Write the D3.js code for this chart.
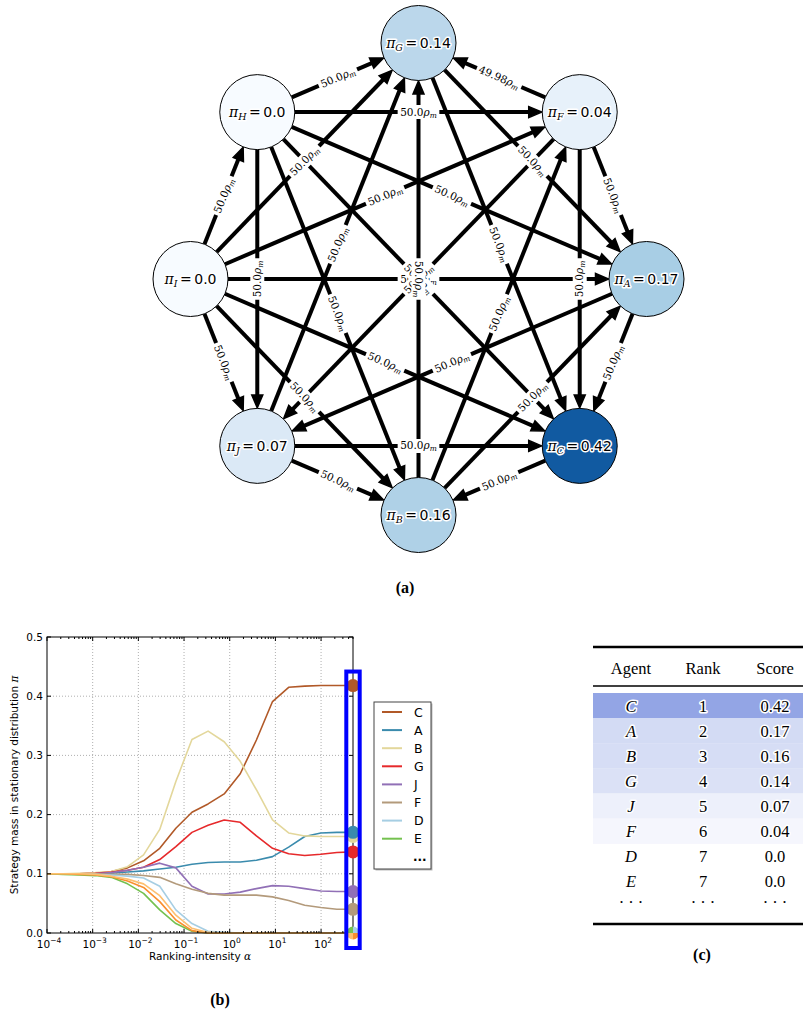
<!DOCTYPE html>
<html>
<head>
<meta charset="utf-8">
<script src="https://cdn.jsdelivr.net/npm/d3@7"></script>
<style>
  body { margin: 0; background: #fff; }
  svg { display: block; }
</style>
</head>
<body>
<svg id="fig" width="803" height="1013"></svg>
<script>
// ---------------- data: response graph (a) ----------------
// agents in circular order, starting on the right and going counter-clockwise
const agents = ["A", "F", "G", "H", "I", "J", "B", "C"];
const agentMass = [0.17, 0.04, 0.14, 0.0, 0.0, 0.07, 0.16, 0.42];

const edgeSource = ["I","I","I","I","I","I","I","H","H","H","H","H","H","G","G","F","F","F","F","A","A","J","J","J","C","B","B","B"];
const edgeTarget = ["H","G","F","A","C","B","J","G","F","A","C","B","J","C","A","G","J","C","A","J","C","G","C","B","B","F","A","G"];
const edgeRate   = [50.0,50.0,50.0,50.0,50.0,50.0,50.0,50.0,50.0,50.0,50.0,50.0,50.0,50.0,50.0,49.98,50.0,50.0,50.0,50.0,50.0,50.0,50.0,50.0,50.0,50.0,50.0,50.0];

// ---------------- data: mass vs ranking intensity (b) ----------------
const alphaGrid = [1e-4, 2.25e-4, 5.07e-4, 1.14e-3, 2.57e-3, 5.79e-3, 1.30e-2, 2.94e-2, 6.62e-2, 0.149,
                   0.336, 0.757, 1.70, 3.84, 8.65, 19.5, 43.9, 98.8, 222, 500];
const seriesNames  = ["C", "A", "B", "G", "J", "F", "D", "E", "H", "I"];
const seriesColors = ["#b15928", "#3a8bad", "#e3d79b", "#e6292b", "#9170b6", "#b39a7b", "#a6cee3", "#74c14f", "#f98f2d", "#fdbf6f"];
const massC = [0.100,0.100,0.100,0.101,0.104,0.110,0.122,0.143,0.177,0.204,0.218,0.235,0.269,0.326,0.391,0.415,0.417,0.418,0.418,0.418];
const massA = [0.100,0.100,0.100,0.100,0.101,0.103,0.105,0.108,0.111,0.116,0.119,0.120,0.120,0.123,0.129,0.145,0.163,0.169,0.170,0.170];
const massB = [0.100,0.100,0.101,0.102,0.104,0.112,0.132,0.175,0.256,0.327,0.341,0.323,0.290,0.242,0.191,0.169,0.164,0.163,0.163,0.163];
const massG = [0.100,0.100,0.100,0.101,0.103,0.106,0.111,0.124,0.146,0.170,0.182,0.191,0.187,0.164,0.143,0.134,0.131,0.133,0.136,0.137];
const massJ = [0.100,0.100,0.100,0.100,0.102,0.106,0.111,0.118,0.110,0.079,0.066,0.066,0.069,0.075,0.080,0.079,0.075,0.071,0.070,0.070];
const massF = [0.100,0.100,0.100,0.100,0.099,0.099,0.097,0.094,0.083,0.074,0.067,0.064,0.064,0.064,0.061,0.055,0.047,0.043,0.040,0.040];
const massD = [0.100,0.100,0.100,0.099,0.098,0.096,0.093,0.079,0.039,0.016,0.003,0.001,0.000,0.000,0.000,0.000,0.000,0.000,0.000,0.000];
const massE = [0.100,0.099,0.098,0.097,0.094,0.083,0.067,0.039,0.016,0.003,0.000,0.000,0.000,0.000,0.000,0.000,0.000,0.000,0.000,0.000];
const massH = [0.100,0.100,0.099,0.098,0.095,0.088,0.077,0.053,0.022,0.004,0.000,0.000,0.000,0.000,0.000,0.000,0.000,0.000,0.000,0.000];
const massI = [0.100,0.100,0.100,0.099,0.096,0.091,0.083,0.063,0.030,0.008,0.001,0.000,0.000,0.000,0.000,0.000,0.000,0.000,0.000,0.000];
const legendNames = ["C", "A", "B", "G", "J", "F", "D", "E"];
const yTickValues = [0.0, 0.1, 0.2, 0.3, 0.4, 0.5];
const xTickExponents = [-4, -3, -2, -1, 0, 1, 2];

// ---------------- data: ranking table (c) ----------------
const tableAgents = ["C", "A", "B", "G", "J", "F", "D", "E"];
const tableRanks  = [1, 2, 3, 4, 5, 6, 7, 7];
const tableScores = [0.42, 0.17, 0.16, 0.14, 0.07, 0.04, 0.0, 0.0];
const tableHeader = ["Agent", "Rank", "Score"];

// ------------------------------------------------------------
const svg = d3.select("#fig");
const pyStr = v => Number.isInteger(v) ? v.toFixed(1) : String(v);
const SERIF = "'DejaVu Serif', serif";
const SANS = "'DejaVu Sans', sans-serif";
const TIMES = "'Liberation Serif', 'Times New Roman', serif";

// ======================= (a) graph =======================
const gA = svg.append("g");
const ring = { cx: 418.5, cy: 279, rx: 228, ry: 236 };
const nodeR = 37.5;
const turn = d3.scaleLinear().domain([0, agents.length]).range([0, 2 * Math.PI]);
const blues = d3.scaleSequential(d3.interpolateBlues).domain([0, 0.5]);

const nodes = agents.map((a, i) => {
  const t = turn(i);
  const snap = v => Math.round(v * 1000) / 1000;
  return { id: a, mass: agentMass[i],
           x: snap(ring.cx + ring.rx * Math.cos(t)),
           y: snap(ring.cy - ring.ry * Math.sin(t)) };
});
const byId = Object.fromEntries(nodes.map(n => [n.id, n]));

const edges = edgeSource.map((s, i) => {
  const a = byId[s], b = byId[edgeTarget[i]];
  const dx = b.x - a.x, dy = b.y - a.y, len = Math.hypot(dx, dy);
  const ux = dx / len, uy = dy / len;
  // text angle kept readable, measured target -> source
  let ang = Math.atan2(a.y - b.y, a.x - b.x) * 180 / Math.PI;
  if (ang > 90.001) ang -= 180;
  if (ang < -90.001) ang += 180;
  return { s, t: edgeTarget[i], rate: edgeRate[i], ux, uy,
           x1: a.x + ux * nodeR, y1: a.y + uy * nodeR,
           x2: b.x - ux * (nodeR + 0.5), y2: b.y - uy * (nodeR + 0.5),
           mx: (a.x + b.x) / 2, my: (a.y + b.y) / 2, ang };
});

const headL = 13, headW = 11;
const gEdges = gA.append("g");
edges.forEach(e => {
  gEdges.append("line")
    .attr("x1", e.x1).attr("y1", e.y1)
    .attr("x2", e.x2 - e.ux * (headL - 2)).attr("y2", e.y2 - e.uy * (headL - 2))
    .attr("stroke", "#000").attr("stroke-width", 4);
  const bx = e.x2 - e.ux * headL, by = e.y2 - e.uy * headL;
  const nx = -e.uy, ny = e.ux;
  gEdges.append("path")
    .attr("d", `M${e.x2},${e.y2}L${bx + nx * headW / 2},${by + ny * headW / 2}L${bx - nx * headW / 2},${by - ny * headW / 2}Z`)
    .attr("fill", "#000").attr("stroke", "#000").attr("stroke-width", 1.5).attr("stroke-linejoin", "miter");
});

// nodes
gA.append("g").selectAll("circle").data(nodes).join("circle")
  .attr("cx", d => d.x).attr("cy", d => d.y).attr("r", nodeR)
  .attr("fill", d => blues(d.mass)).attr("stroke", "#000").attr("stroke-width", 1);

// edge labels
const gLab = gA.append("g");
edges.forEach(e => {
  const g = gLab.append("g").attr("transform", `translate(${e.mx},${e.my}) rotate(${e.ang})`);
  const bg = g.append("rect").attr("fill", "#fff");
  const t = g.append("text").attr("text-anchor", "middle").attr("y", 3.5)
    .attr("font-family", SERIF).attr("font-size", 10.5).attr("fill", "#000");
  t.append("tspan").text(pyStr(e.rate));
  t.append("tspan").attr("font-style", "italic").text("ρ");
  t.append("tspan").attr("font-style", "italic").attr("font-size", 7.5).attr("dy", 2).text("m");
  const bb = t.node().getBBox();
  bg.attr("x", bb.x - 2.5).attr("y", -7).attr("width", bb.width + 5).attr("height", 14).attr("rx", 3);
});

// node labels
nodes.forEach(n => {
  const t = gA.append("text").attr("x", n.x).attr("y", n.y + 5)
    .attr("text-anchor", "middle").attr("font-size", 14).attr("fill", "#000")
    .attr("stroke", "#fff").attr("stroke-width", 3).attr("paint-order", "stroke")
    .attr("stroke-linejoin", "round");
  t.append("tspan").attr("font-family", SERIF).attr("font-style", "italic").text("π");
  t.append("tspan").attr("font-family", SERIF).attr("font-style", "italic").attr("font-size", 9.5).attr("dy", 3).text(n.id);
  t.append("tspan").attr("font-family", SANS).attr("dy", -3).attr("dx", 2.5).text("=");
  t.append("tspan").attr("font-family", SANS).attr("dx", 2.5).text(pyStr(n.mass));
});

svg.append("text").attr("x", 405).attr("y", 593).attr("text-anchor", "middle")
  .attr("font-family", TIMES).attr("font-weight", "bold").attr("font-size", 16).text("(a)");

// ======================= (b) line chart =======================
const gB = svg.append("g");
const plot = { left: 47, right: 353, top: 637, bottom: 933 };
const x = d3.scaleLog().domain([alphaGrid[0], alphaGrid[alphaGrid.length - 1]]).range([plot.left, plot.right]);
const y = d3.scaleLinear().domain([0, 0.5]).range([plot.bottom, plot.top]);
const seriesValues = [massC, massA, massB, massG, massJ, massF, massD, massE, massH, massI];
const series = seriesNames.map((n, i) => ({ name: n, color: seriesColors[i], values: seriesValues[i] }));
const colorOf = Object.fromEntries(series.map(s => [s.name, s.color]));

// grid
const majors = xTickExponents.map(e => Math.pow(10, e));
gB.append("g").selectAll("line").data(majors.slice(1)).join("line")
  .attr("x1", d => x(d)).attr("x2", d => x(d)).attr("y1", plot.top).attr("y2", plot.bottom)
  .attr("stroke", "#9a9a9a").attr("stroke-width", 0.8).attr("stroke-dasharray", "1,2");
gB.append("g").selectAll("line").data(yTickValues.slice(1, -1)).join("line")
  .attr("x1", plot.left).attr("x2", plot.right).attr("y1", d => y(d)).attr("y2", d => y(d))
  .attr("stroke", "#9a9a9a").attr("stroke-width", 0.8).attr("stroke-dasharray", "1,2");

// curves
const line = d3.line().x((d, i) => x(alphaGrid[i])).y(d => y(d));
gB.append("g").selectAll("path").data(series).join("path")
  .attr("d", d => line(d.values)).attr("fill", "none")
  .attr("stroke", d => d.color).attr("stroke-width", 1.6).attr("stroke-linejoin", "round");

// frame and ticks (inward, all four sides)
gB.append("rect").attr("x", plot.left).attr("y", plot.top)
  .attr("width", plot.right - plot.left).attr("height", plot.bottom - plot.top)
  .attr("fill", "none").attr("stroke", "#000").attr("stroke-width", 1);
const minors = [];
xTickExponents.forEach(e => { for (let k = 2; k <= 9; k++) { const v = k * Math.pow(10, e); if (v <= x.domain()[1]) minors.push(v); } });
const tk = gB.append("g").attr("stroke", "#000").attr("stroke-width", 1);
majors.forEach(v => {
  tk.append("line").attr("x1", x(v)).attr("x2", x(v)).attr("y1", plot.bottom).attr("y2", plot.bottom - 4);
  tk.append("line").attr("x1", x(v)).attr("x2", x(v)).attr("y1", plot.top).attr("y2", plot.top + 4);
});
minors.forEach(v => {
  tk.append("line").attr("x1", x(v)).attr("x2", x(v)).attr("y1", plot.bottom).attr("y2", plot.bottom - 2);
  tk.append("line").attr("x1", x(v)).attr("x2", x(v)).attr("y1", plot.top).attr("y2", plot.top + 2);
});
yTickValues.forEach(v => {
  tk.append("line").attr("x1", plot.left).attr("x2", plot.left + 4).attr("y1", y(v)).attr("y2", y(v));
  tk.append("line").attr("x1", plot.right).attr("x2", plot.right - 4).attr("y1", y(v)).attr("y2", y(v));
});

// tick labels
gB.append("g").selectAll("text").data(yTickValues).join("text")
  .attr("x", plot.left - 4).attr("y", d => y(d) + 3.5).attr("text-anchor", "end")
  .attr("font-family", SANS).attr("font-size", 10.5).text(d => d.toFixed(1));
xTickExponents.forEach(e => {
  const t = gB.append("text").attr("x", x(Math.pow(10, e)) + 2).attr("y", plot.bottom + 15)
    .attr("text-anchor", "middle").attr("font-family", SANS).attr("font-size", 10.5);
  t.append("tspan").text("10");
  t.append("tspan").attr("font-size", 7.5).attr("dy", -5).text(e < 0 ? "−" + (-e) : String(e));
});

// axis titles
const xt = gB.append("text").attr("x", (plot.left + plot.right) / 2).attr("y", 960)
  .attr("text-anchor", "middle").attr("font-family", SANS).attr("font-size", 10.5);
xt.append("tspan").text("Ranking-intensity ");
xt.append("tspan").attr("font-family", SERIF).attr("font-style", "italic").text("α");
const yt = gB.append("text").attr("transform", `translate(18,${(plot.top + plot.bottom) / 2}) rotate(-90)`)
  .attr("text-anchor", "middle").attr("font-family", SANS).attr("font-size", 10.5);
yt.append("tspan").text("Strategy mass in stationary distribution ");
yt.append("tspan").attr("font-family", SERIF).attr("font-style", "italic").text("π");

// highlight of the final ranking column
const lastX = x(alphaGrid[alphaGrid.length - 1]);
const finals = series.map(s => ({ name: s.name, color: s.color, v: s.values[s.values.length - 1] }));
const maxFinal = d3.max(finals, d => d.v);
const zeroGroup = finals.filter(d => d.v < 0.005);
const posGroup = finals.filter(d => d.v >= 0.005);
// markers drawn lowest rank first so higher ranks sit on top
posGroup.slice().reverse().forEach(d => {
  gB.append("circle").attr("cx", lastX).attr("cy", y(d.v)).attr("r", 6.5).attr("fill", d.color);
});
const pieOrder = ["D", "H", "I", "E"];
const pie = d3.pie().sort(null).value(() => 1)(pieOrder.map(n => zeroGroup.find(z => z.name === n)));
const arc = d3.arc().innerRadius(0).outerRadius(6.5);
gB.append("g").attr("transform", `translate(${lastX},${y(0)})`)
  .selectAll("path").data(pie).join("path").attr("d", arc).attr("fill", d => d.data.color);
gB.append("rect").attr("x", lastX - 6.7).attr("y", y(maxFinal) - 14)
  .attr("width", 13.4).attr("height", y(0) + 15 - (y(maxFinal) - 14))
  .attr("fill", "none").attr("stroke", "#0000ff").attr("stroke-width", 4);

// legend
const lg = gB.append("g").attr("transform", "translate(374,702)");
lg.append("rect").attr("x", 1.5).attr("y", 1.5).attr("width", 57).attr("height", 167).attr("fill", "#bbb");
lg.append("rect").attr("width", 57).attr("height", 167).attr("fill", "#fff").attr("stroke", "#444").attr("stroke-width", 1);
legendNames.forEach((n, i) => {
  const yy = 10 + i * 18.1;
  lg.append("line").attr("x1", 8).attr("x2", 28).attr("y1", yy).attr("y2", yy)
    .attr("stroke", colorOf[n]).attr("stroke-width", 2);
  lg.append("text").attr("x", 40).attr("y", yy + 4.5).attr("font-family", SANS).attr("font-size", 12.5).text(n);
});
lg.append("text").attr("x", 39).attr("y", 10 + 8 * 18.1 + 4).attr("font-family", SANS)
  .attr("font-weight", "bold").attr("font-size", 12).text("...");

svg.append("text").attr("x", 220).attr("y", 1005).attr("text-anchor", "middle")
  .attr("font-family", TIMES).attr("font-weight", "bold").attr("font-size", 16).text("(b)");

// ======================= (c) table =======================
const gC = svg.append("g");
const tbl = { left: 593, right: 803, cols: [631, 703, 775], rowTop: 693, rowH: 25.1 };
const shade = d3.scaleLinear().domain([0, 0.5]).range(["#ffffff", "#7f94e0"]);

gC.append("line").attr("x1", tbl.left).attr("x2", tbl.right).attr("y1", 647).attr("y2", 647)
  .attr("stroke", "#000").attr("stroke-width", 2.6);
gC.append("line").attr("x1", tbl.left).attr("x2", tbl.right).attr("y1", 686).attr("y2", 686)
  .attr("stroke", "#000").attr("stroke-width", 1.6);
tableHeader.forEach((h, j) => {
  gC.append("text").attr("x", tbl.cols[j]).attr("y", 673.5).attr("text-anchor", "middle")
    .attr("font-family", TIMES).attr("font-size", 16.5).text(h);
});
tableAgents.forEach((a, i) => {
  const top = tbl.rowTop + i * tbl.rowH;
  const sc = tableScores[i];
  if (sc > 0) {
    gC.append("rect").attr("x", tbl.left).attr("y", top).attr("width", tbl.right - tbl.left)
      .attr("height", tbl.rowH + 0.3).attr("fill", shade(sc));
  }
  const cells = [a, String(tableRanks[i]), pyStr(sc)];
  cells.forEach((c, j) => {
    const t = gC.append("text").attr("x", tbl.cols[j]).attr("y", top + tbl.rowH / 2 + 6)
      .attr("text-anchor", "middle").attr("font-family", TIMES).attr("font-size", 16.5)
      .attr("font-style", j === 0 ? "italic" : "normal").text(c);
    if (sc > 0) t.attr("stroke", "#fff").attr("stroke-width", 3).attr("paint-order", "stroke").attr("stroke-linejoin", "round");
  });
});
const dotsY = tbl.rowTop + tableAgents.length * tbl.rowH + tbl.rowH / 2 + 2;
tbl.cols.forEach(cx => {
  gC.append("text").attr("x", cx).attr("y", dotsY).attr("text-anchor", "middle")
    .attr("font-family", TIMES).attr("font-size", 16.5).text("· · ·");
});
gC.append("line").attr("x1", tbl.left).attr("x2", tbl.right).attr("y1", 924).attr("y2", 924)
  .attr("stroke", "#000").attr("stroke-width", 2.6);
svg.append("text").attr("x", 702).attr("y", 960).attr("text-anchor", "middle")
  .attr("font-family", TIMES).attr("font-weight", "bold").attr("font-size", 16).text("(c)");
</script>
</body>
</html>
